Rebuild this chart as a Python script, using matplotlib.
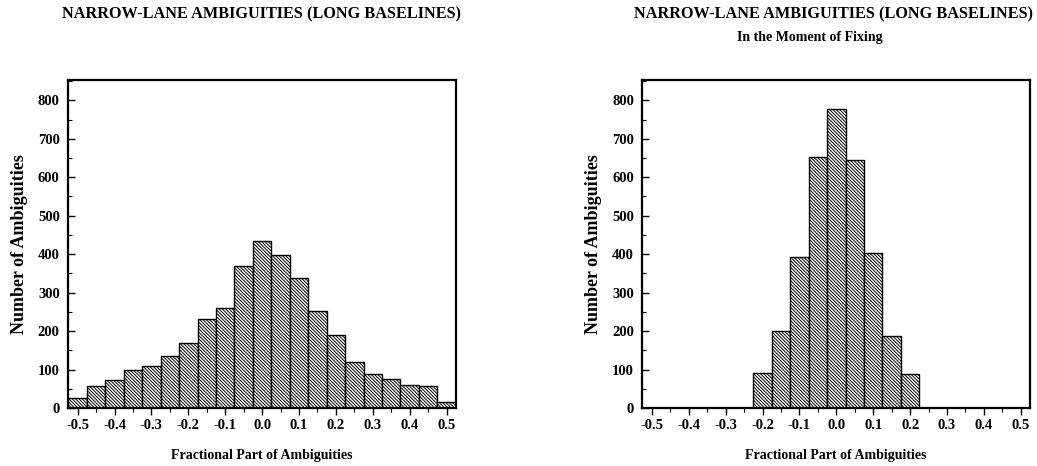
# Narrow-lane ambiguity histograms: all epochs vs. moment of fixing

import numpy as np
import matplotlib
matplotlib.use('Agg')
import matplotlib.pyplot as plt
from matplotlib.ticker import MultipleLocator

# Bin centres (width 0.05 cycles)
bin_centres = [-0.50, -0.45, -0.40, -0.35, -0.30, -0.25, -0.20, -0.15, -0.10, -0.05,
               0.00, 0.05, 0.10, 0.15, 0.20, 0.25, 0.30, 0.35, 0.40, 0.45, 0.50]

# Counts for all narrow-lane ambiguities
counts_all = [27, 56, 73, 98, 108, 134, 168, 232, 260, 370,
              434, 398, 338, 253, 189, 119, 89, 75, 60, 58, 16]

# Counts in the moment of fixing
counts_fix = [0, 0, 0, 0, 0, 0, 92, 201, 393, 652,
              778, 644, 404, 187, 89, 0, 0, 0, 0, 0, 0]

xtick_vals = [-0.5, -0.4, -0.3, -0.2, -0.1, 0.0, 0.1, 0.2, 0.3, 0.4, 0.5]
xtick_labels = ['-0.5', '-0.4', '-0.3', '-0.2', '-0.1', '0.0', '0.1', '0.2', '0.3', '0.4', '0.5']

main_title = 'NARROW-LANE AMBIGUITIES (LONG BASELINES)'
sub_title = 'In the Moment of Fixing'

plt.rcParams['font.family'] = ['Liberation Serif', 'DejaVu Serif']
plt.rcParams['font.weight'] = 'bold'
plt.rcParams['hatch.linewidth'] = 0.7

fig = plt.figure(figsize=(10.37, 4.66), dpi=100)
ax1 = fig.add_axes([0.0656, 0.1245, 0.3739, 0.704])
ax2 = fig.add_axes([0.6194, 0.1245, 0.3739, 0.704])


def draw_hist(ax, counts):
    ax.bar(bin_centres, counts, width=0.05, color='white', edgecolor='black',
           linewidth=1.0, hatch='\\' * 10, align='center')
    ax.set_xlim(-0.526, 0.525)
    ax.set_ylim(0, 853)
    ax.set_xticks(xtick_vals)
    ax.set_xticklabels(xtick_labels)
    ax.xaxis.set_minor_locator(MultipleLocator(0.05))
    ax.yaxis.set_major_locator(MultipleLocator(100))
    ax.yaxis.set_minor_locator(MultipleLocator(50))
    ax.tick_params(axis='x', which='major', direction='out', length=5, width=1, pad=3, labelsize=10.5)
    ax.tick_params(axis='x', which='minor', direction='out', length=3, width=0.8)
    ax.tick_params(axis='y', which='major', direction='in', length=5, width=1, pad=6, labelsize=10.5)
    ax.tick_params(axis='y', which='minor', direction='in', length=3, width=0.8)
    for sp in ax.spines.values():
        sp.set_linewidth(1.6)
    ax.set_xlabel('Fractional Part of Ambiguities', fontsize=10, fontweight='bold', labelpad=12)
    ax.set_ylabel('Number of Ambiguities', fontsize=13, fontweight='bold', labelpad=7)


draw_hist(ax1, counts_all)
draw_hist(ax2, counts_fix)

ax1.text(0.5, 1.200, main_title, transform=ax1.transAxes, ha='center', va='center',
         fontsize=11.7, fontweight='bold')
ax2.text(0.492, 1.200, main_title, transform=ax2.transAxes, ha='center', va='center',
         fontsize=11.7, fontweight='bold')
ax2.text(0.4325, 1.128, sub_title, transform=ax2.transAxes, ha='center', va='center',
         fontsize=10, fontweight='bold')

fig.savefig('out.png', dpi=100)
